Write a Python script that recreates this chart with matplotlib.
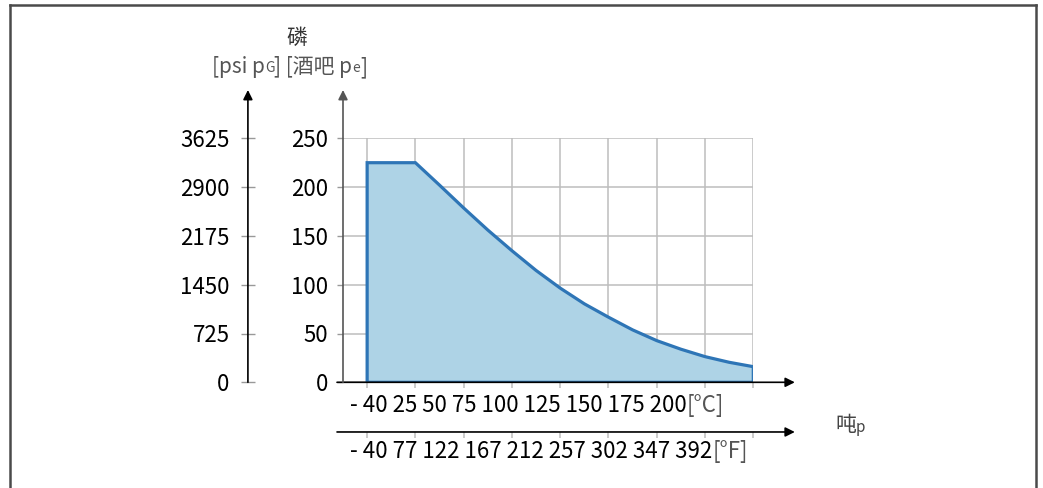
import numpy as np
import matplotlib.pyplot as plt
from matplotlib.lines import Line2D

plt.rcParams['font.family'] = ['Noto Sans CJK SC', 'DejaVu Sans']

# data
tick_temp_c = [-40, 25, 50, 75, 100, 125, 150, 175, 200]
tick_labels_c = ["- 40", "25", "50", "75", "100", "125", "150", "175", "200"]
tick_labels_f = ["- 40", "77", "122", "167", "212", "257", "302", "347", "392"]
bar_ticks = [0, 50, 100, 150, 200, 250]
psi_labels = ["0", "725", "1450", "2175", "2900", "3625"]

curve_temp_c = [-40, 25, 37.5, 50, 62.5, 75, 87.5, 100, 112.5, 125,
                137.5, 150, 162.5, 175, 187.5, 200]
curve_bar = [225, 225, 202, 178.6, 156, 134.8, 114.6, 96.5, 80.4, 66.7,
             53.7, 42.7, 33.9, 26.3, 20.5, 16.0]

W, H = 1043, 488
fs = 16
fill_col = '#aed3e6'
edge_col = '#2e75b6'
grid_col = '#bdbdbd'
unit_col = '#555555'

fig = plt.figure(figsize=(W / 100, H / 100), dpi=100)
ax = fig.add_axes([343 / W, (H - 382.3) / H, 410.3 / W, 244 / H])

# temperatures sit on evenly spaced positions
pos = np.interp(curve_temp_c, tick_temp_c, np.arange(len(tick_temp_c)))
xs = np.concatenate([pos, [pos[-1], pos[0]]])
ys = np.concatenate([curve_bar, [0, 0]])
ax.fill(xs, ys, facecolor=fill_col, edgecolor=edge_col, lw=2.3,
        joinstyle='miter', zorder=3)

ax.set_xlim(-0.5, len(tick_temp_c) - 1)
ax.set_ylim(0, 250)
ax.set_xticks(np.arange(len(tick_temp_c)))
ax.set_xticklabels([])
ax.set_yticks(bar_ticks)
ax.set_yticklabels([str(v) for v in bar_ticks], fontsize=fs)
ax.grid(True, color=grid_col, lw=1.1, zorder=1)
for s in ax.spines.values():
    s.set_visible(False)
ax.tick_params(axis='x', direction='out', length=4.5, color=grid_col, width=1.1)
ax.tick_params(axis='y', direction='out', length=4.3, color='#999999', width=1,
               pad=6.5)

# psi axis
psi = ax.secondary_yaxis(-0.2315, functions=(lambda b: b * 14.5, lambda p: p / 14.5))
psi.set_yticks([v * 14.5 for v in bar_ticks])
psi.set_yticklabels(psi_labels, fontsize=fs)
psi.spines['left'].set_visible(False)
psi.tick_params(direction='inout', length=9.4, color='#999999', width=1, pad=8.6)

# fahrenheit axis ticks
fa = ax.secondary_xaxis(-0.2037)
fa.set_xticks(np.arange(len(tick_temp_c)))
fa.set_xticklabels([])
fa.spines['bottom'].set_visible(False)
fa.tick_params(direction='out', length=4.5, color=grid_col, width=1.1)

# axis lines with arrows
arr = dict(arrowstyle='-|>', color='black', lw=1.2, mutation_scale=14,
           shrinkA=0, shrinkB=0)
y_f = -50.9
ax.annotate('', xy=(8.86, 0), xytext=(-0.624, 0), arrowprops=arr,
            annotation_clip=False)
ax.annotate('', xy=(8.86, y_f), xytext=(-0.624, y_f), arrowprops=arr,
            annotation_clip=False)
ax.annotate('', xy=(-0.5, 299.5), xytext=(-0.5, 0),
            arrowprops=dict(arr, color='#555555'), annotation_clip=False)
ax.annotate('', xy=(-2.47, 299.5), xytext=(-2.47, 0), arrowprops=arr,
            annotation_clip=False)


def chain(parts, x, y, ha='left'):
    # parts: (text, size, color, raise_pts)
    t0 = fig.text(x / W, 1 - y / H, parts[0][0], fontsize=parts[0][1],
                  color=parts[0][2], va='baseline', ha='left')
    prev = t0
    for txt, size, col, rise in parts[1:]:
        prev = fig.axes[0].annotate(txt, xy=(1, 0), xycoords=prev,
                                    xytext=(0, rise), textcoords='offset points',
                                    fontsize=size, color=col, va='bottom', ha='left')
    return t0


# x tick label rows
chain([(" ".join(tick_labels_c), fs, 'black', 0), ("[°C]", fs, unit_col, 0)], 350, 412)
chain([(" ".join(tick_labels_f), fs, 'black', 0), ("[°F]", fs, unit_col, 0)], 350, 458)

# axis titles
fig.text(297 / W, 1 - 38 / H, "磷", fontsize=fs - 1, color='#333333',
         ha='center', va='center')
chain([("[psi p", fs - 1, unit_col, 0), ("G", 10, unit_col, 2),
       ("] [酒吧 p", fs - 1, unit_col, -2), ("e", 10, unit_col, 2),
       ("]", fs - 1, unit_col, -2)], 212, 73)
chain([("吨", fs - 1, '#444444', 0), ("p", 11, '#444444', 0)], 835, 431)

# frame
fc = '#4a4a4a'
fig.add_artist(Line2D([10 / W, 10 / W], [0, 1 - 5 / H], color=fc, lw=1.8))
fig.add_artist(Line2D([10 / W, 1036 / W], [1 - 5 / H, 1 - 5 / H], color=fc, lw=1.8))
fig.add_artist(Line2D([1036 / W, 1036 / W], [0, 1 - 5 / H], color=fc, lw=1.8))

fig.savefig('out.png', dpi=100)
